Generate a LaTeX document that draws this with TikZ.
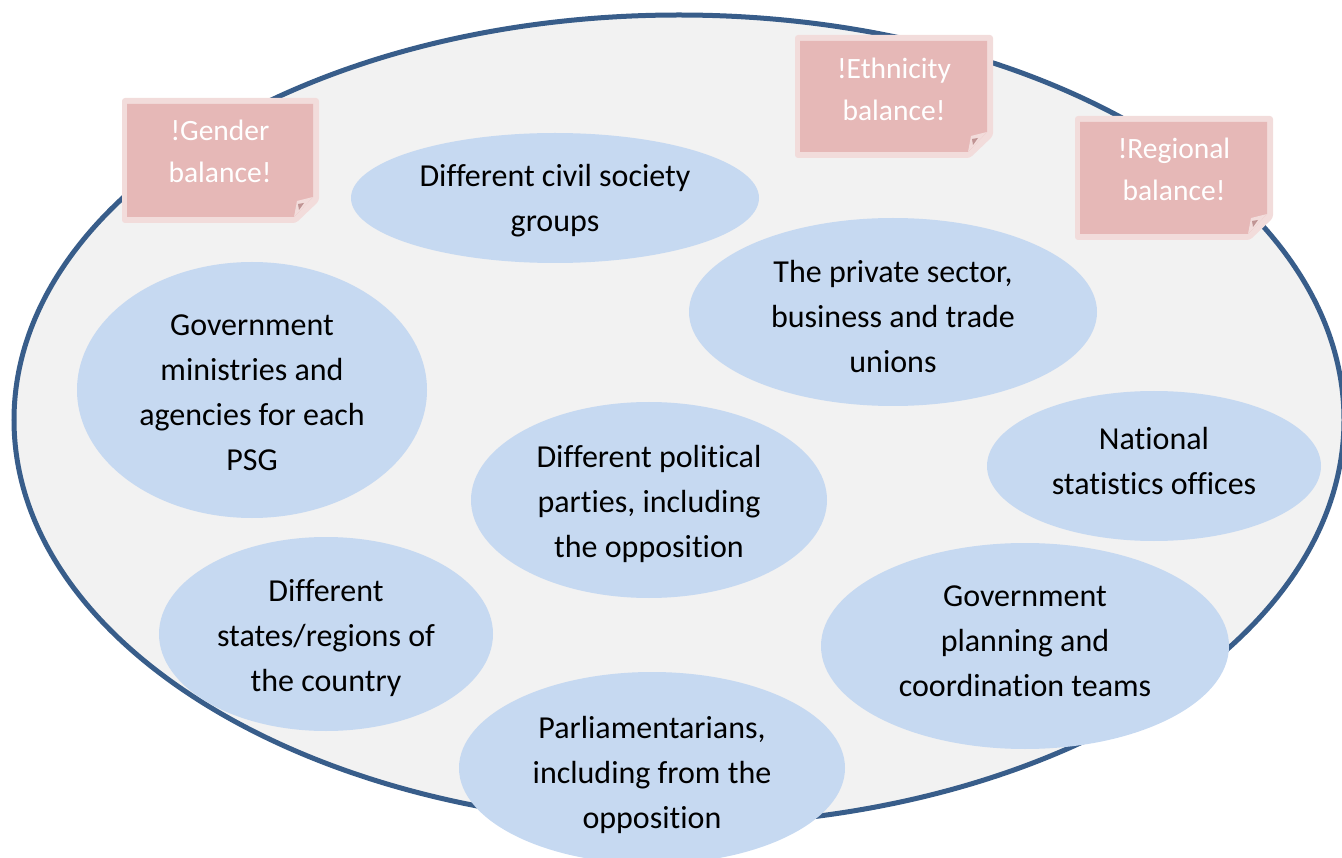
\documentclass[tikz,border=0pt]{standalone}
\usepackage{fontspec}
\setmainfont{Carlito}[RawFeature={-liga}]
\usetikzlibrary{shapes.geometric,calc}
\definecolor{ringline}{RGB}{56,93,138}
\definecolor{ringfill}{RGB}{242,242,242}
\definecolor{blobfill}{RGB}{198,217,241}
\definecolor{notefill}{RGB}{230,184,183}
\definecolor{noteedge}{RGB}{242,220,219}
\definecolor{notefold}{RGB}{192,148,148}
\newcommand\stickynote[4]{%
  \fill[noteedge, rounded corners=3] (#1,#2) -- (#3,#2) -- (#3,#4-22) -- (#3-23,#4) -- (#1,#4) -- cycle;
  \fill[notefill] (#1+5,#2+6) -- (#3-6,#2+6) -- (#3-6,#4-26) -- (#3-25,#4-6) -- (#1+5,#4-6) -- cycle;
  \fill[noteedge] (#3-6,#4-26) -- (#3-22,#4-22) -- (#3-25,#4-6) -- cycle;
  \fill[notefold] (#3-15,#4-20) -- (#3-21,#4-19) -- (#3-20,#4-13) -- cycle;
}
\tikzset{
  bigring/.style={draw=ringline, line width=5pt, fill=ringfill},
  blob/.style={ellipse, fill=blobfill, inner sep=0pt, outer sep=0pt},
  blobtext/.style={align=center, inner sep=0pt, text=black,
    font=\fontsize{32}{45}\selectfont,
    execute at begin node=\strut, execute at end node=\strut},
  notetext/.style={align=center, inner sep=0pt, text=white,
    font=\fontsize{29.5}{42}\selectfont,
    execute at begin node=\strut, execute at end node=\strut},
}
\begin{document}
\begin{tikzpicture}[x=1pt, y=-1pt]
\useasboundingbox (0,0) rectangle (1342,858);
\begin{scope}
\clip (0,0) rectangle (1342,858);
\draw[bigring] (679,420) ellipse [x radius=665, y radius=405];

\node[blob, minimum width=408, minimum height=130] (civ) at (555,198) {};
\node[blob, minimum width=408, minimum height=188] (priv) at (893,312) {};
\node[blob, minimum width=350, minimum height=256] (gov) at (252,390) {};
\node[blob, minimum width=334, minimum height=150] (nat) at (1154,466) {};
\node[blob, minimum width=356, minimum height=196] (pol) at (649,500) {};
\node[blob, minimum width=334, minimum height=194] (states) at (326,634) {};
\node[blob, minimum width=408, minimum height=206] (plan) at (1025,646) {};
\node[blob, minimum width=386, minimum height=192] (parl) at (652,768) {};

\node[blobtext] (civt) at (555,205) {Different civil society\\groups};
\node[blobtext] (privt) at (893,323) {The private sector,\\business and trade\\unions};
\node[blobtext] (govt) at (252,399) {Government\\ministries and\\agencies for each\\PSG};
\node[blobtext] (natt) at (1154,468) {National\\statistics offices};
\node[blobtext] (polt) at (649,508) {Different political\\parties, including\\the opposition};
\node[blobtext] (statest) at (326,642) {Different\\states/regions of\\the country};
\node[blobtext] (plant) at (1025,648) {Government\\planning and\\coordination teams};
\node[blobtext] (parlt) at (652,779) {Parliamentarians,\\including from the\\opposition};

\stickynote{122}{98}{319}{223}
\stickynote{795}{35}{993}{158}
\stickynote{1075}{116}{1273}{240}

\node[notetext] (gender) at (220,158) {!Gender\\balance!};
\node[notetext] (ethnic) at (894,96) {!Ethnicity\\balance!};
\node[notetext] (region) at (1174,176) {!Regional\\balance!};
\end{scope}
\end{tikzpicture}
\end{document}
